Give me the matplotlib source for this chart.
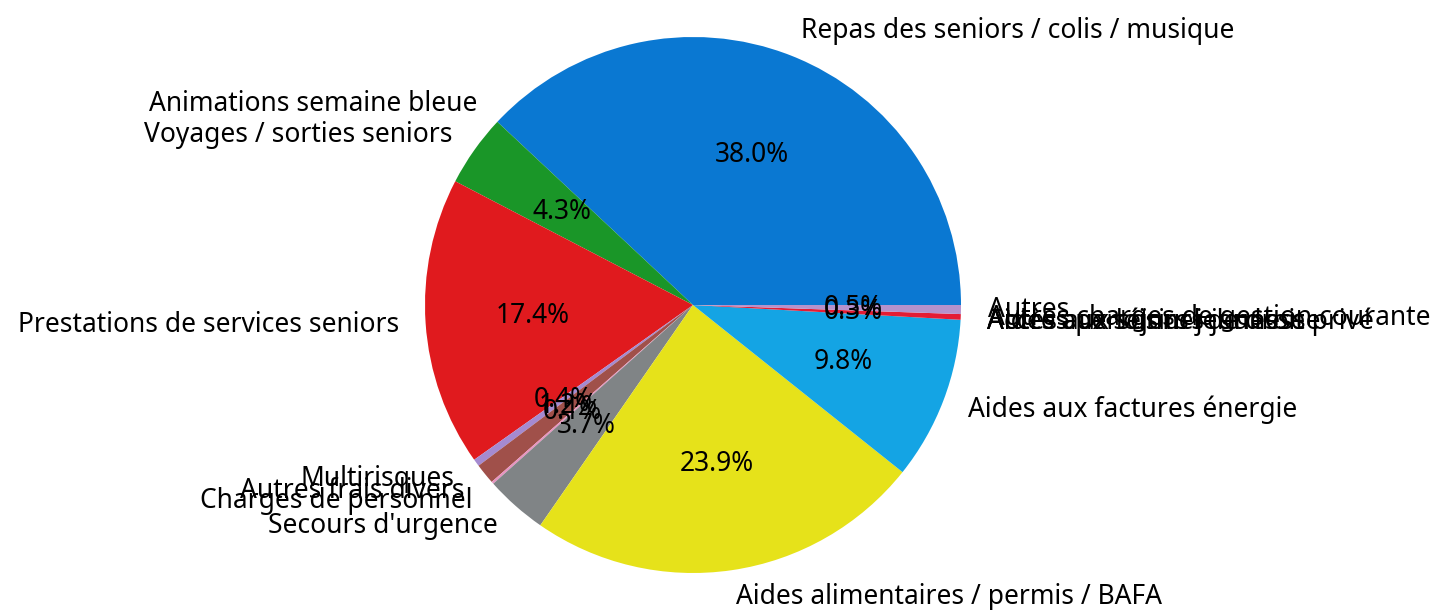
import matplotlib
matplotlib.use("Agg")
import matplotlib.pyplot as plt

plt.rcParams["font.family"] = ["Noto Sans", "DejaVu Sans"]

# postes de dépenses (ordre du camembert, sens trigonométrique depuis 3h)
postes = [
    "Repas des seniors / colis / musique",
    "Animations semaine bleue",
    "Voyages / sorties seniors",
    "Prestations de services seniors",
    "Multirisques",
    "Autres frais divers",
    "Charges de personnel",
    "Secours d'urgence",
    "Aides alimentaires / permis / BAFA",
    "Aides aux factures énergie",
    "Aides aux séjours jeunesse",
    "Accès aux loisirs jeunesse",
    "Autres personnel de droit privé",
    "Autres charges de gestion courante",
    "Autres",
]

montants = [38.04, 0, 4.34, 17.44, 0.44, 1.24, 0.14, 3.74, 23.94, 9.84,
            0, 0, 0, 0.34, 0.54]

couleurs = ["#0a78d2", "#ff7f0e", "#1a9628", "#e01a1e", "#a58ad0",
            "#a0504a", "#e893c0", "#808486", "#e6e21a", "#14a4e4",
            "#0a78d2", "#ff7f0e", "#1a9628", "#e41c34", "#b592cc"]

fig = plt.figure(figsize=(14.52, 6.10), dpi=100)
ax = fig.add_axes([0, 0, 1, 1])

ax.pie(montants, labels=postes, colors=couleurs,
       autopct=lambda p: f"{p:.1f}%" if p > 0 else "",
       startangle=0, textprops={"fontsize": 19})

# centre du camembert à (693, 305) px, rayon 268 px
r = 268.0
ax.set_xlim(-693 / r, (1452 - 693) / r)
ax.set_ylim(-305 / r, 305 / r)
ax.set_aspect("auto")
ax.axis("off")

fig.savefig("out.png", dpi=100)
